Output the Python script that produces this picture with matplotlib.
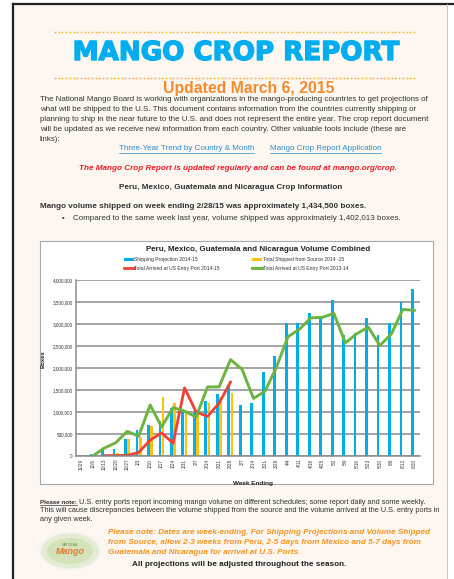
import numpy as np
import matplotlib
matplotlib.use('Agg')
import matplotlib.pyplot as plt
from matplotlib.patches import Rectangle, Ellipse
import matplotlib.patheffects as pe

weeks = ['11/29', '12/6', '12/13', '12/20', '12/27', '1/3', '1/10', '1/17', '1/24', '1/31',
         '2/7', '2/14', '2/21', '2/28', '3/7', '3/14', '3/21', '3/28', '4/4', '4/11',
         '4/18', '4/25', '5/2', '5/9', '5/16', '5/23', '5/30', '6/6', '6/13', '6/20']
projection = [None, 50000, 140000, 150000, 380000, 600000, 700000, 800000, 1100000, 1050000,
              1000000, 1250000, 1400000, 1610000, 1160000, 1200000, 1900000, 2280000, 3030000, 3020000,
              3250000, 3130000, 3540000, 2760000, 2800000, 3140000, 2760000, 3030000, 3490000, 3790000]
shipped = [None, None, None, 60000, 385000, 440000, 680000, 1330000, 1200000, 980000,
           1050000, 1200000, 1330000, 1434500] + [None] * 16
arrived_1415 = [None, None, 10000, 10000, 15000, 80000, 360000, 525000, 290000, 1550000,
                1000000, 900000, 1200000, 1680000] + [None] * 16
arrived_1314 = [None, 0, 180000, 300000, 560000, 450000, 1160000, 660000, 1100000, 1020000,
                885000, 1570000, 1570000, 2190000, 1970000, 1310000, 1470000, 2020000, 2710000, 2880000,
                3140000, 3150000, 3240000, 2570000, 2780000, 2930000, 2510000, 2770000, 3330000, 3310000]

intro = ["The National Mango Board is working with organizations in the mango-producing countries to get projections of",
         "what will be shipped to the U.S. This document contains information from the countries currently shipping or",
         "planning to ship in the near future to the U.S. and does not represent the entire year. The crop report document",
         "will be updated as we receive new information from each country. Other valuable tools include (these are",
         "links):"]
note = ["U.S. entry ports report incoming mango volume on different schedules; some report daily and some weekly.",
        "This will cause discrepancies between the volume shipped from the source and the volume arrived at the U.S. entry ports in",
        "any given week."]
orange_note = ["Please note: Dates are week-ending. For Shipping Projections and Volume Shipped",
               "from Source, allow 2-3 weeks from Peru, 2-5 days from Mexico and 5-7 days from",
               "Guatemala and Nicaragua for arrival at U.S. Ports."]

plt.rcParams['font.family'] = ['Liberation Sans', 'DejaVu Sans']
W, H = 454, 579
fig = plt.figure(figsize=(W / 100, H / 100), dpi=100)
fig.patch.set_facecolor('white')
page = fig.add_axes([0, 0, 1, 1])
page.set_xlim(0, W)
page.set_ylim(H, 0)
page.axis('off')
renderer = fig.canvas.get_renderer()

txt = '#333333'
page.add_patch(Rectangle((13, 4), 434, 580, facecolor='#fdf6f1', edgecolor='none'))
page.plot([13, 13], [4, 579], color='#222222', lw=1.6)
page.plot([13, 454], [4, 4], color='#222222', lw=1.6)
page.plot([447, 447], [4, 579], color='#bbbbbb', lw=0.6)


def fit(x, y, s, width, **kw):
    t = page.text(x, y, s, **kw)
    w = t.get_window_extent(renderer).width
    t.set_fontsize(t.get_fontsize() * width / w)
    return t


# header
dots = np.arange(55, 416, 3.7)
page.scatter(dots, np.full(len(dots), 32), s=1.6, color='#f9b233', lw=0)
page.scatter(dots, np.full(len(dots), 78), s=1.6, color='#f9b233', lw=0)
fit(236, 53, 'MANGO CROP REPORT', 328, family='DejaVu Sans', weight='bold', color='#00aeef',
    ha='center', va='center',
    path_effects=[pe.withStroke(linewidth=1.0, foreground='#00aeef')])
fit(249, 88, 'Updated March 6, 2015', 171, weight='bold', color='#f58a2a', ha='center', va='center')

t = fit(40, 99.5, intro[0], 390, color=txt, va='center')
fs = t.get_fontsize()
for i, line in enumerate(intro[1:]):
    page.text(40, 99.5 + 10 * (i + 1), line, fontsize=fs, color=txt, va='center')

link = '#2b8ccb'
fit(119, 149, 'Three-Year Trend by Country & Month', 135, color=link, va='center')
fit(270, 149, 'Mango Crop Report Application', 111, color=link, va='center')
page.plot([119, 254], [152.5, 152.5], color=link, lw=0.5)
page.plot([270, 381], [152.5, 152.5], color=link, lw=0.5)

fit(238, 168.5, 'The Mango Crop Report is updated regularly and can be found at mango.org/crop.', 318,
    color='#ed1c24', weight='bold', style='italic', ha='center', va='center')
fit(230.5, 187.5, 'Peru, Mexico, Guatemala and Nicaragua Crop Information', 223,
    color=txt, weight='bold', ha='center', va='center')
fit(40, 207, 'Mango volume shipped on week ending 2/28/15 was approximately 1,434,500 boxes.', 323,
    color=txt, weight='bold', va='center')
page.text(62, 218.5, '\u2022', fontsize=fs, color=txt, va='center')
fit(73, 218.5, 'Compared to the same week last year, volume shipped was approximately 1,402,013 boxes.', 327,
    color=txt, va='center')

# chart frame
page.add_patch(Rectangle((40, 241), 393, 243, facecolor='white', edgecolor='#a8a8a8', lw=0.8))
fit(258.5, 249.5, 'Peru, Mexico, Guatemala and Nicaragua Volume Combined', 223,
    color='#222222', weight='bold', ha='center', va='center')

# chart
l, r, top, bot = 75.5, 420, 280, 456
ax = fig.add_axes([l / W, (H - bot) / H, (r - l) / W, (bot - top) / H])
ax.set_facecolor('none')
x = np.arange(len(weeks))
val = lambda s: np.array([np.nan if v is None else v for v in s], dtype=float)
b1 = ax.bar(x - 0.15, val(projection), width=0.24, color='#00aee6', label='Shipping Projection 2014-15')
b2 = ax.bar(x + 0.13, val(shipped), width=0.24, color='#ffc20e', label='Total Shipped from Source 2014 -15')
l1, = ax.plot(x, val(arrived_1415), color='#ef4136', lw=2.0, label='Total Arrived at US Entry Port 2014-15')
l2, = ax.plot(x, val(arrived_1314), color='#6cb33f', lw=2.1, label='Total Arrived at US Entry Port 2013-14')

ax.set_xlim(-0.5, len(weeks) - 0.5)
ax.set_ylim(0, 4000000)
ax.set_yticks(np.arange(0, 4000001, 500000))
ax.yaxis.set_major_formatter(matplotlib.ticker.FuncFormatter(lambda v, p: f'{int(v):,}'))
ax.set_xticks(x)
ax.set_xticklabels(weeks, rotation=90)
ax.tick_params(axis='both', labelsize=3.3, colors='#333333', length=0, pad=2)
ax.grid(axis='y', color='#8a8a8a', lw=1.1)
ax.set_axisbelow(True)
for s in ['top', 'right']:
    ax.spines[s].set_visible(False)
for s in ['left', 'bottom']:
    ax.spines[s].set_color('#8a8a8a')
    ax.spines[s].set_linewidth(1.1)
ax.set_ylabel('Boxes', fontsize=4.2, weight='bold', color='#222222')
ax.yaxis.set_label_coords(-0.088, 0.55)
ax.set_xlabel('Week Ending', fontsize=4.6, weight='bold', color='#222222')
ax.xaxis.set_label_coords(0.514, -0.142)

leg = ax.legend(handles=[b1, l1, b2, l2], ncol=2, loc='center', fontsize=3.6,
                bbox_to_anchor=(236, 264), bbox_transform=page.transData, frameon=False,
                handlelength=2.0, handleheight=0.5, handletextpad=0.15, columnspacing=6.4,
                labelspacing=0.8)
for t in leg.get_texts():
    t.set_color('#333333')

# footer
fit(40, 502, 'Please note:', 37, color=txt, weight='bold', va='center')
page.plot([40, 77], [505, 505], color=txt, lw=0.5)
t = fit(79, 502, note[0], 349, color=txt, va='center')
fs2 = t.get_fontsize()
page.text(40, 510.5, note[1], fontsize=fs2, color=txt, va='center')
page.text(40, 519.5, note[2], fontsize=fs2, color=txt, va='center')

t = fit(108, 533, orange_note[0], 321, color='#f7941d', weight='bold', style='italic', va='center')
fs3 = t.get_fontsize()
for i, line in enumerate(orange_note[1:]):
    page.text(108, 533 + 9.5 * (i + 1), line, fontsize=fs3, color='#f7941d', weight='bold',
              style='italic', va='center')
fit(132, 564.5, 'All projections will be adjusted throughout the season.', 211,
    color='#222222', weight='bold', va='center')

page.add_patch(Ellipse((70, 551), 60, 37, facecolor='#e3ecd3', edgecolor='#f4f4ee', lw=1.5))
page.add_patch(Ellipse((70, 551), 46, 26, facecolor='#d3e2b9', edgecolor='none'))
page.text(70, 545, 'NATIONAL', fontsize=2.5, color='#6a8f3a', ha='center', va='center')
page.text(70, 552, 'Mango', fontsize=6.5, color='#e07b2a', weight='bold', style='italic',
          ha='center', va='center')

fig.savefig('out.png', dpi=100, facecolor='white')
